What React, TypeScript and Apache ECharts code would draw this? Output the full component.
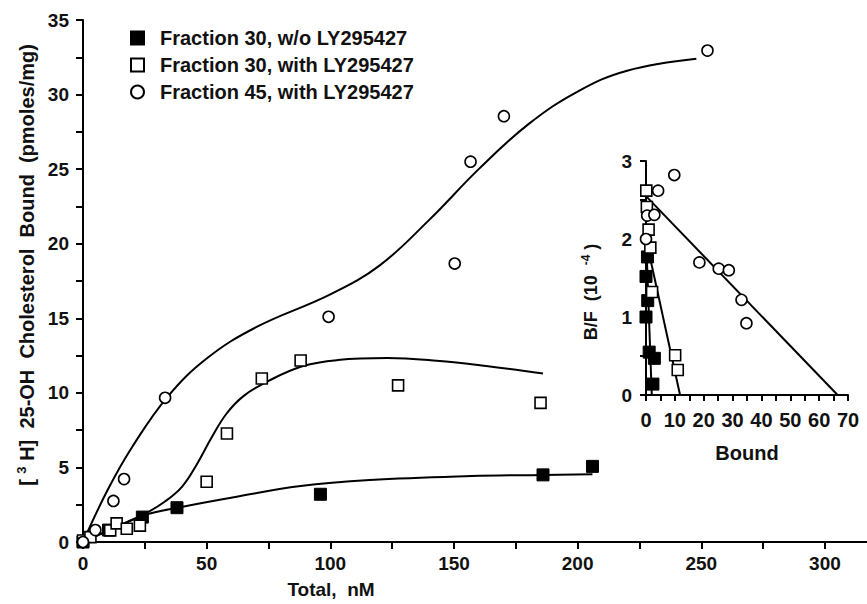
import { useEffect, useRef } from 'react';
import * as echarts from 'echarts';

// ---- legend / series names ----
const seriesNames = [
  'Fraction 30, w/o LY295427',
  'Fraction 30, with LY295427',
  'Fraction 45, with LY295427',
];

// ---- main panel: measured points (Total nM, bound pmoles/mg) ----
const frac30NoLY: [number, number][] = [
  [0, 0], [10.3, 0.8], [24, 1.67], [38, 2.3], [96, 3.2], [186, 4.5], [206, 5.07],
];
const frac30LY: [number, number][] = [
  [0, 0.1], [3, 0.33], [11, 0.78], [13.6, 1.25], [17.7, 0.89], [23, 1.1],
  [50, 4.04], [58.2, 7.27], [72.3, 10.96], [88, 12.17], [127.4, 10.5], [185, 9.33],
];
const frac45LY: [number, number][] = [
  [0, 0], [5, 0.8], [12.3, 2.75], [16.6, 4.22], [33.2, 9.67], [99.3, 15.1],
  [150.3, 18.67], [156.7, 25.5], [170.2, 28.55], [252.5, 32.95],
];

// ---- main panel: fitted curves ----
const curveNoLY: [number, number][] = [
  [0, 0], [12, 0.9], [24.4, 1.78], [39.3, 2.33], [61, 3.0], [88, 3.75],
  [116, 4.15], [157, 4.42], [186, 4.5], [206, 4.55],
];
const curve30LY: [number, number][] = [
  [0, 0], [12, 0.9], [24, 1.8], [33, 2.7], [40, 3.7], [46, 5.2], [52, 7.0], [58, 8.6],
  [65, 9.8], [75, 10.8], [89, 11.8], [103, 12.2], [123, 12.33], [143, 12.15],
  [163, 11.8], [186, 11.3],
];
const curve45LY: [number, number][] = [
  [0, 0], [10, 3.5], [20, 6.4], [34, 9.7], [50, 12.3], [70, 14.4],
  [100, 16.6], [120, 18.55], [140, 21.6], [160, 25.0],
  [180, 28.0], [200, 30.2], [220, 31.6], [248, 32.4],
];

// ---- inset (Scatchard): Bound vs B/F (10^-4) ----
const insetNoLY: [number, number][] = [
  [0.5, 1.77], [0, 1.52], [0.6, 1.21], [0, 1.0], [1.1, 0.55], [2.9, 0.47], [2.4, 0.14],
];
const inset30LY: [number, number][] = [
  [0.1, 2.62], [0.3, 2.41], [0.9, 2.12], [1.5, 1.89], [2.1, 1.32], [10.1, 0.51], [11, 0.32],
];
const inset45LY: [number, number][] = [
  [9.8, 2.82], [4.2, 2.62], [0.4, 2.3], [2.9, 2.31], [0, 2.0], [18.5, 1.7],
  [25.2, 1.62], [28.7, 1.6], [33.1, 1.22], [34.8, 0.92],
];
const insetLineNoLY: [number, number][] = [[0.2, 1.85], [2.0, 0]];
const insetLine30LY: [number, number][] = [[0.3, 1.95], [11.8, 0]];
const insetLine45LY: [number, number][] = [[0, 2.55], [66.4, 0]];

const FONT = 'Liberation Sans, Arial, Helvetica, sans-serif';
const INK = '#111';

export default function App() {
  const ref = useRef<HTMLDivElement>(null);

  useEffect(() => {
    if (!ref.current) return;
    const chart = echarts.init(ref.current, null, { renderer: 'svg' });

    const filled = { color: '#000', borderColor: '#000', borderWidth: 1, opacity: 1 };
    const open = { color: '#fff', borderColor: '#000', borderWidth: 1.6, opacity: 1 };
    const lineStyle = { color: '#000', width: 2 };
    const axisLine = { show: true, lineStyle: { color: '#000', width: 2 } };
    const axisTick = { show: true, inside: false, length: 7, lineStyle: { color: '#000', width: 2 } };
    const label = { color: INK, fontFamily: FONT, fontWeight: 'bold' as const, fontSize: 19 };

    const lineSeries = (name: string, data: [number, number][], xi: number, smooth: boolean) => ({
      type: 'line',
      name,
      data,
      xAxisIndex: xi,
      yAxisIndex: xi,
      smooth: smooth ? 0.4 : false,
      showSymbol: false,
      symbol: 'none',
      lineStyle,
      silent: true,
      z: 2,
    });
    const scatter = (name: string, data: [number, number][], xi: number, symbol: string, size: number, style: any) => ({
      type: 'scatter',
      name,
      data,
      xAxisIndex: xi,
      yAxisIndex: xi,
      symbol,
      symbolSize: size,
      itemStyle: style,
      emphasis: { disabled: true },
      z: 5,
    });

    chart.setOption({
      animation: false,
      backgroundColor: '#fff',
      textStyle: { fontFamily: FONT },
      legend: {
        data: seriesNames,
        orient: 'vertical',
        left: 125,
        top: 23,
        itemWidth: 13,
        itemHeight: 13,
        itemGap: 7,
        selectedMode: false,
        textStyle: { color: INK, fontFamily: FONT, fontWeight: 'bold', fontSize: 20, padding: [0, 0, 0, 11] },
      },
      grid: [
        { left: 83, top: 20, right: 0, bottom: 59 },
        { left: 646, top: 161, width: 202, height: 234 },
      ],
      xAxis: [
        {
          type: 'value',
          gridIndex: 0,
          min: 0,
          max: 317,
          interval: 25,
          axisLine,
          axisTick,
          splitLine: { show: false },
          axisLabel: {
            ...label,
            margin: 12,
            showMaxLabel: false,
            formatter: (v: number) => (v % 50 === 0 ? String(v) : ''),
          },
          name: 'Total,  nM',
          nameLocation: 'middle',
          nameGap: 38,
          nameTextStyle: { ...label, fontSize: 19, padding: [0, 288, 0, 0] },
        },
        {
          type: 'value',
          gridIndex: 1,
          min: 0,
          max: 70,
          interval: 5,
          axisLine,
          axisTick: { ...axisTick, length: 6 },
          splitLine: { show: false },
          axisLabel: {
            ...label,
            fontSize: 20,
            margin: 15,
            formatter: (v: number) => (v % 10 === 0 ? String(v) : ''),
          },
          name: 'Bound',
          nameLocation: 'middle',
          nameGap: 48,
          nameTextStyle: { ...label, fontSize: 20 },
        },
      ],
      yAxis: [
        {
          type: 'value',
          gridIndex: 0,
          min: 0,
          max: 35,
          interval: 2.5,
          axisLine,
          axisTick,
          splitLine: { show: false },
          axisLabel: {
            ...label,
            margin: 14,
            formatter: (v: number) => (v % 5 === 0 ? String(v) : ''),
          },
          name: '{t|[ }{s|3}{t| H]  25-OH  Cholesterol  Bound  (pmoles/mg)}',
          nameLocation: 'middle',
          nameGap: 42,
          nameTextStyle: {
            ...label,
            fontSize: 20,
            padding: [0, 0, 0, 32],
            rich: {
              t: { fontFamily: FONT, fontWeight: 'bold', fontSize: 20, color: INK },
              s: { fontFamily: FONT, fontWeight: 'bold', fontSize: 13, color: INK, verticalAlign: 'bottom', padding: [0, 0, 11, 0] },
            },
          },
        },
        {
          type: 'value',
          gridIndex: 1,
          min: 0,
          max: 3,
          interval: 0.5,
          axisLine,
          axisTick: { ...axisTick, length: 6 },
          splitLine: { show: false },
          axisLabel: {
            ...label,
            margin: 14,
            formatter: (v: number) => (v % 1 === 0 ? String(v) : ''),
          },
          name: '{t|B/F  (10  }{s|-4}{t| )}',
          nameLocation: 'middle',
          nameGap: 44,
          nameTextStyle: {
            ...label,
            fontSize: 18,
            padding: [0, 28, 0, 0],
            rich: {
              t: { fontFamily: FONT, fontWeight: 'bold', fontSize: 18, color: INK },
              s: { fontFamily: FONT, fontWeight: 'bold', fontSize: 12, color: INK, verticalAlign: 'bottom', padding: [0, 0, 10, 0] },
            },
          },
        },
      ],
      series: [
        lineSeries('curve-noLY', curveNoLY, 0, true),
        lineSeries('curve-30LY', curve30LY, 0, true),
        lineSeries('curve-45LY', curve45LY, 0, true),
        lineSeries('inset-line-noLY', insetLineNoLY, 1, false),
        lineSeries('inset-line-30LY', insetLine30LY, 1, false),
        lineSeries('inset-line-45LY', insetLine45LY, 1, false),
        scatter(seriesNames[0], frac30NoLY, 0, 'rect', 12, filled),
        scatter(seriesNames[1], frac30LY, 0, 'rect', 11, open),
        scatter(seriesNames[2], frac45LY, 0, 'circle', 11, open),
        scatter(seriesNames[0], insetNoLY, 1, 'rect', 12, filled),
        scatter(seriesNames[1], inset30LY, 1, 'rect', 11, open),
        scatter(seriesNames[2], inset45LY, 1, 'circle', 11, open),
      ],
    });

    return () => chart.dispose();
  }, []);

  return (
    <div
      ref={ref}
      style={{ position: 'fixed', left: 0, top: 0, width: 867, height: 604, background: '#fff' }}
    />
  );
}
